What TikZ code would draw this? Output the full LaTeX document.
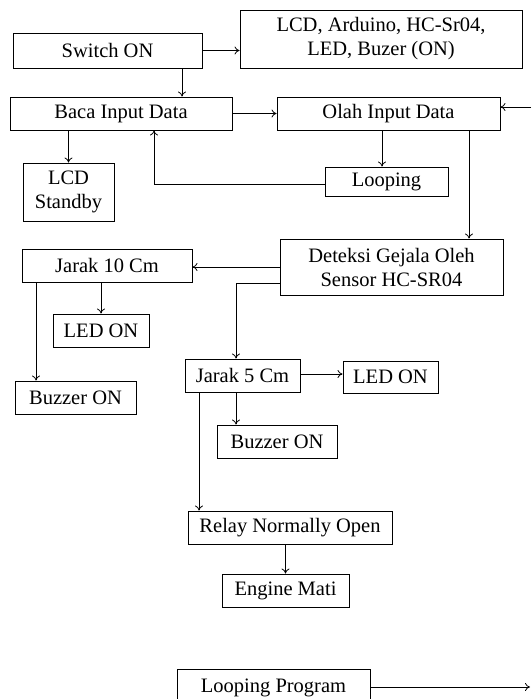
\documentclass[tikz,border=0pt]{standalone}
\usepackage{fontspec}
\setmainfont{Liberation Serif}
\usetikzlibrary{arrows.meta,shadows,calc}
\tikzset{
  boxnode/.style={draw=black, line width=1pt, fill=white, rectangle, inner sep=0pt,
    align=center, font=\fontsize{20.5}{24}\selectfont,
    drop shadow={shadow xshift=1.4pt, shadow yshift=-1.4pt, fill=black, opacity=1}},
  conn/.style={draw=black, line width=0.8pt, -{To[length=5pt,width=8pt]}},
  plain/.style={draw=black, line width=0.8pt}
}
\begin{document}
\begin{tikzpicture}[x=1pt,y=-1pt]
\clip (0,0) rectangle (531,699);
\fill[white] (0,0) rectangle (531,699);
% nodes
\node[boxnode, minimum width=189pt, minimum height=35pt] (sw) at (107.5,50.5) {Switch ON};
\node[boxnode, minimum width=282pt, minimum height=58pt] (lcd) at (381,39) {LCD, Arduino, HC-Sr04,\\LED, Buzer (ON)};
\node[boxnode, minimum width=222pt, minimum height=33pt] (baca) at (121,113.5) {Baca Input Data};
\node[boxnode, minimum width=223pt, minimum height=33pt] (olah) at (388.5,113.5) {Olah Input Data};
\node[boxnode, minimum width=91pt, minimum height=58pt] (stby) at (68.5,192) {LCD\\Standby};
\node[boxnode, minimum width=123pt, minimum height=29pt] (loop) at (386.5,181.5) {Looping};
\node[boxnode, minimum width=223pt, minimum height=56pt] (det) at (391.5,267) {Deteksi Gejala Oleh\\Sensor HC-SR04};
\node[boxnode, minimum width=170pt, minimum height=33pt] (j10) at (107,265.5) {Jarak 10 Cm};
\node[boxnode, minimum width=96pt, minimum height=33pt] (led1) at (101,330.5) {LED ON};
\node[boxnode, minimum width=121pt, minimum height=33pt] (buz1) at (75.5,397.5) {Buzzer ON};
\node[boxnode, minimum width=115pt, minimum height=33pt] (j5) at (242.5,375.5) {Jarak 5 Cm};
\node[boxnode, minimum width=95pt, minimum height=32pt] (led2) at (390.5,377) {LED ON};
\node[boxnode, minimum width=120pt, minimum height=33pt] (buz2) at (277,441.5) {Buzzer ON};
\node[boxnode, minimum width=204pt, minimum height=33pt] (relay) at (290,527.5) {Relay Normally Open};
\node[boxnode, minimum width=127pt, minimum height=33pt] (eng) at (285.5,590.5) {Engine Mati};
\node[boxnode, minimum width=193pt, minimum height=38pt] (lp) at (273.5,688) {Looping Program};
\coordinate (inr) at (531,107);
\coordinate (outr) at (530,687);
% connectors
\draw[conn] (sw.east) -- (sw.east -| lcd.west);
\draw[conn] ([xshift=74.5pt]sw.south) -- ([xshift=74.5pt]sw.south |- baca.north);
\draw[conn] (baca.east) -- (olah.west);
\draw[conn] (inr) -- (inr -| olah.east);
\draw[conn] (stby.north |- baca.south) -- (stby.north);
\draw[conn] ([xshift=-4.5pt]loop.north |- olah.south) -- ([xshift=-4.5pt]loop.north);
\draw[conn] ([yshift=-2.5pt]loop.west) -| ([xshift=33pt]baca.south);
\draw[conn] ([xshift=80.5pt]olah.south) -- ([xshift=80.5pt]olah.south |- det.north);
\draw[conn] (det.west) -- (det.west -| j10.east);
\draw[conn] ([yshift=-16pt]det.west) -| ([xshift=-6.5pt]j5.north);
\draw[conn] (led1.north |- j10.south) -- (led1.north);
\draw[conn] ([xshift=-71pt]j10.south) -- ([xshift=-71pt]j10.south |- buz1.north);
\draw[conn] ([yshift=1.5pt]j5.east) -- ([yshift=1.5pt]j5.east -| led2.west);
\draw[conn] ([xshift=-6.5pt]j5.south) -- ([xshift=-6.5pt]j5.south |- buz2.north);
\draw[conn] ([xshift=-43.5pt]j5.south) -- ([xshift=-43.5pt]j5.south |- relay.north);
\draw[conn] (eng.north |- relay.south) -- (eng.north);
\draw[conn] (lp.east |- outr) -- (outr);
\end{tikzpicture}
\end{document}
